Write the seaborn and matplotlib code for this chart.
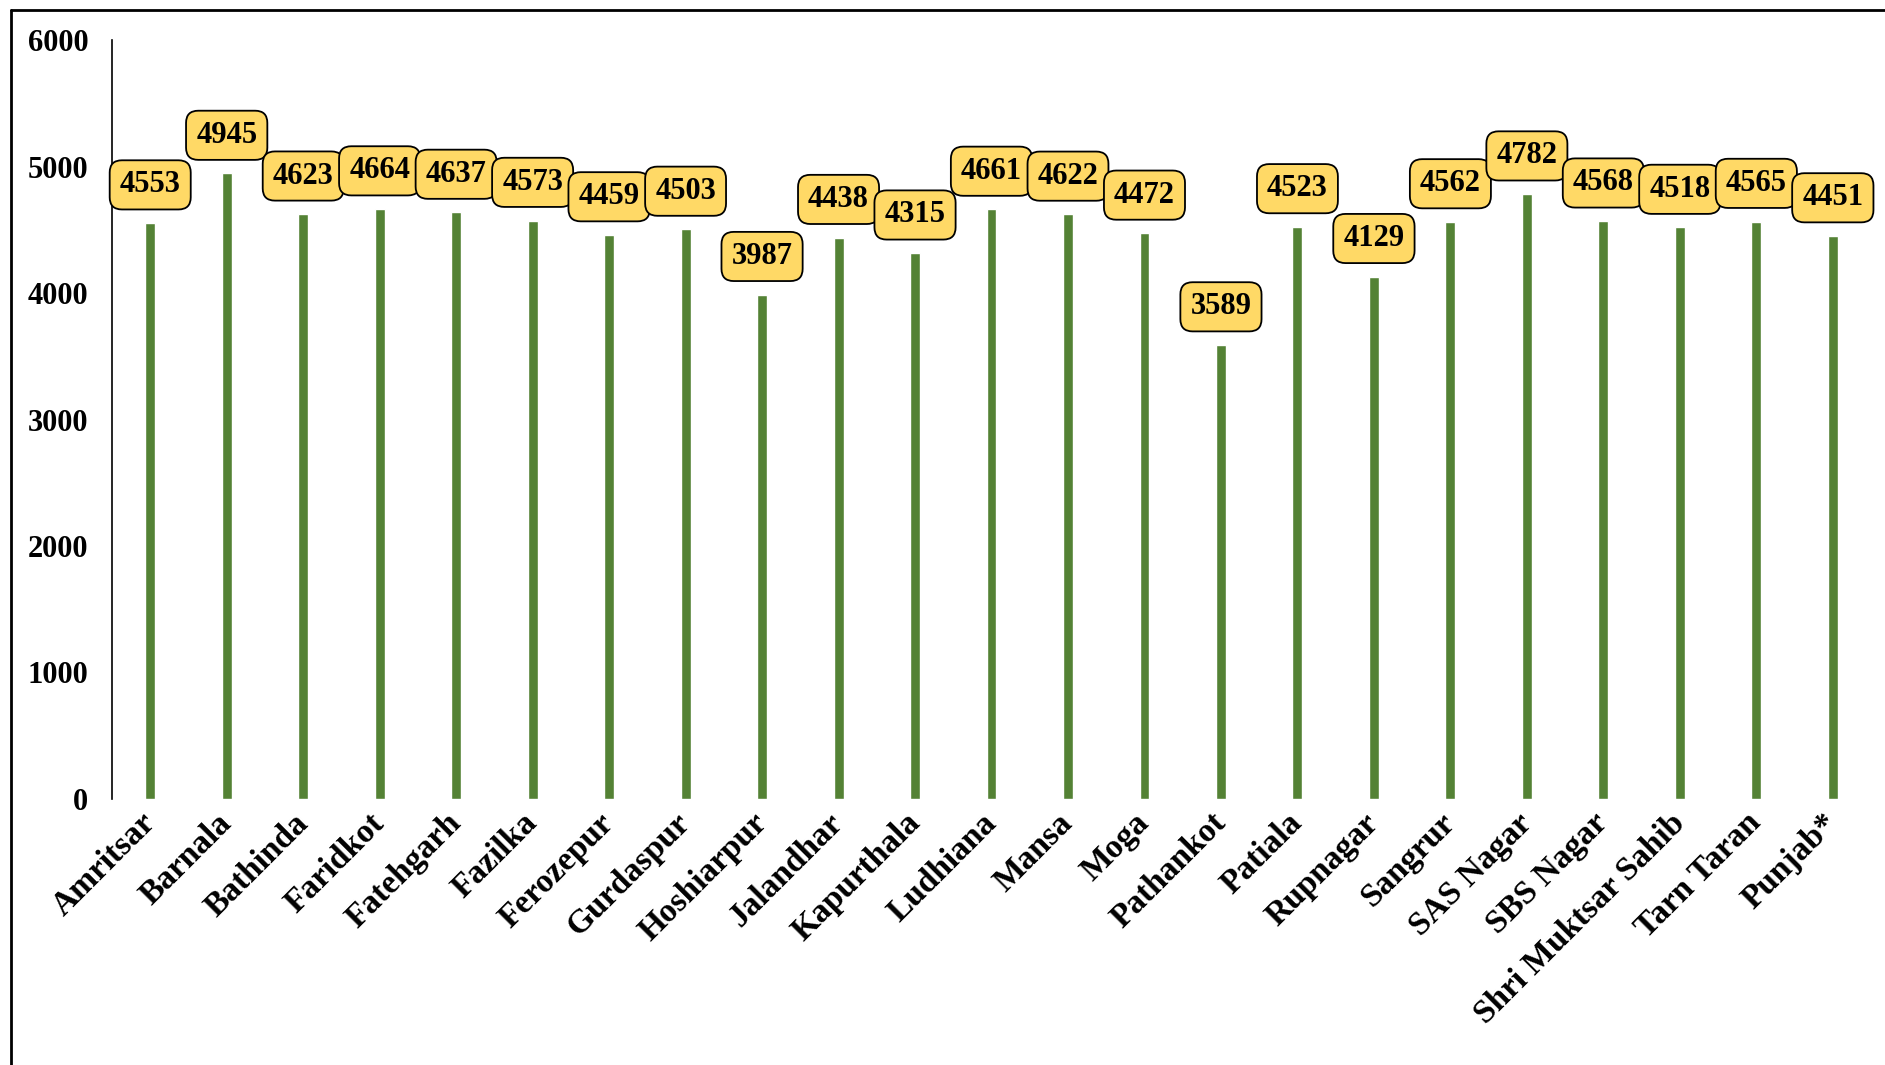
import matplotlib
matplotlib.use("Agg")
import matplotlib.pyplot as plt
from matplotlib.lines import Line2D
import seaborn as sns
import pandas as pd

districts = ["Amritsar", "Barnala", "Bathinda", "Faridkot", "Fatehgarh", "Fazilka",
             "Ferozepur", "Gurdaspur", "Hoshiarpur", "Jalandhar", "Kapurthala",
             "Ludhiana", "Mansa", "Moga", "Pathankot", "Patiala", "Rupnagar",
             "Sangrur", "SAS Nagar", "SBS Nagar", "Shri Muktsar Sahib",
             "Tarn Taran", "Punjab*"]
values = [4553, 4945, 4623, 4664, 4637, 4573, 4459, 4503, 3987, 4438, 4315,
          4661, 4622, 4472, 3589, 4523, 4129, 4562, 4782, 4568, 4518, 4565, 4451]
y_ticks = [0, 1000, 2000, 3000, 4000, 5000, 6000]

sns.set_theme(style="white")
plt.rcParams["font.family"] = ["Liberation Serif", "DejaVu Serif"]
plt.rcParams["font.weight"] = "bold"
plt.rcParams["text.color"] = "black"
plt.rcParams["xtick.color"] = "black"
plt.rcParams["ytick.color"] = "black"

df = pd.DataFrame({"district": districts, "value": values})

fig = plt.figure(figsize=(18.85, 10.65), dpi=100)
ax = fig.add_axes([0.0594, 0.2498, 0.9332, 0.7126])

sns.barplot(data=df, x="district", y="value", color="#548235", saturation=1,
            width=0.13, ax=ax)

ax.set_xlim(-0.5, len(districts) - 0.5)
ax.set_ylim(0, 6000)
ax.set_yticks(y_ticks)
ax.set_yticklabels([str(t) for t in y_ticks], fontsize=22, fontweight="bold",
                   color="black")
ax.set_xlabel("")
ax.set_ylabel("")

for side in ["top", "right", "bottom"]:
    ax.spines[side].set_visible(False)
ax.spines["left"].set_color("black")
ax.spines["left"].set_linewidth(1.2)
ax.tick_params(axis="y", length=0, pad=17)
ax.tick_params(axis="x", length=0, pad=14)

ax.set_xticks(range(len(districts)))
ax.set_xticklabels(districts, rotation=45, ha="right", va="center",
                   rotation_mode="anchor", fontsize=24, fontweight="bold",
                   color="black")

for i, v in enumerate(values):
    ax.annotate(str(v), xy=(i, v), xytext=(0, 27.5), textcoords="offset points",
                ha="center", va="center", fontsize=22, fontweight="bold",
                color="black",
                bbox=dict(boxstyle="round,pad=0.33,rounding_size=0.4",
                          fc="#FFD966", ec="black", lw=1.3))

# outer frame (top and left edges)
fig.add_artist(Line2D([11 / 1885, 11 / 1885], [0, 1 - 10 / 1065],
                      transform=fig.transFigure, color="black", lw=2))
fig.add_artist(Line2D([11 / 1885, 1], [1 - 10 / 1065, 1 - 10 / 1065],
                      transform=fig.transFigure, color="black", lw=2))

fig.savefig("out.png", dpi=100)
